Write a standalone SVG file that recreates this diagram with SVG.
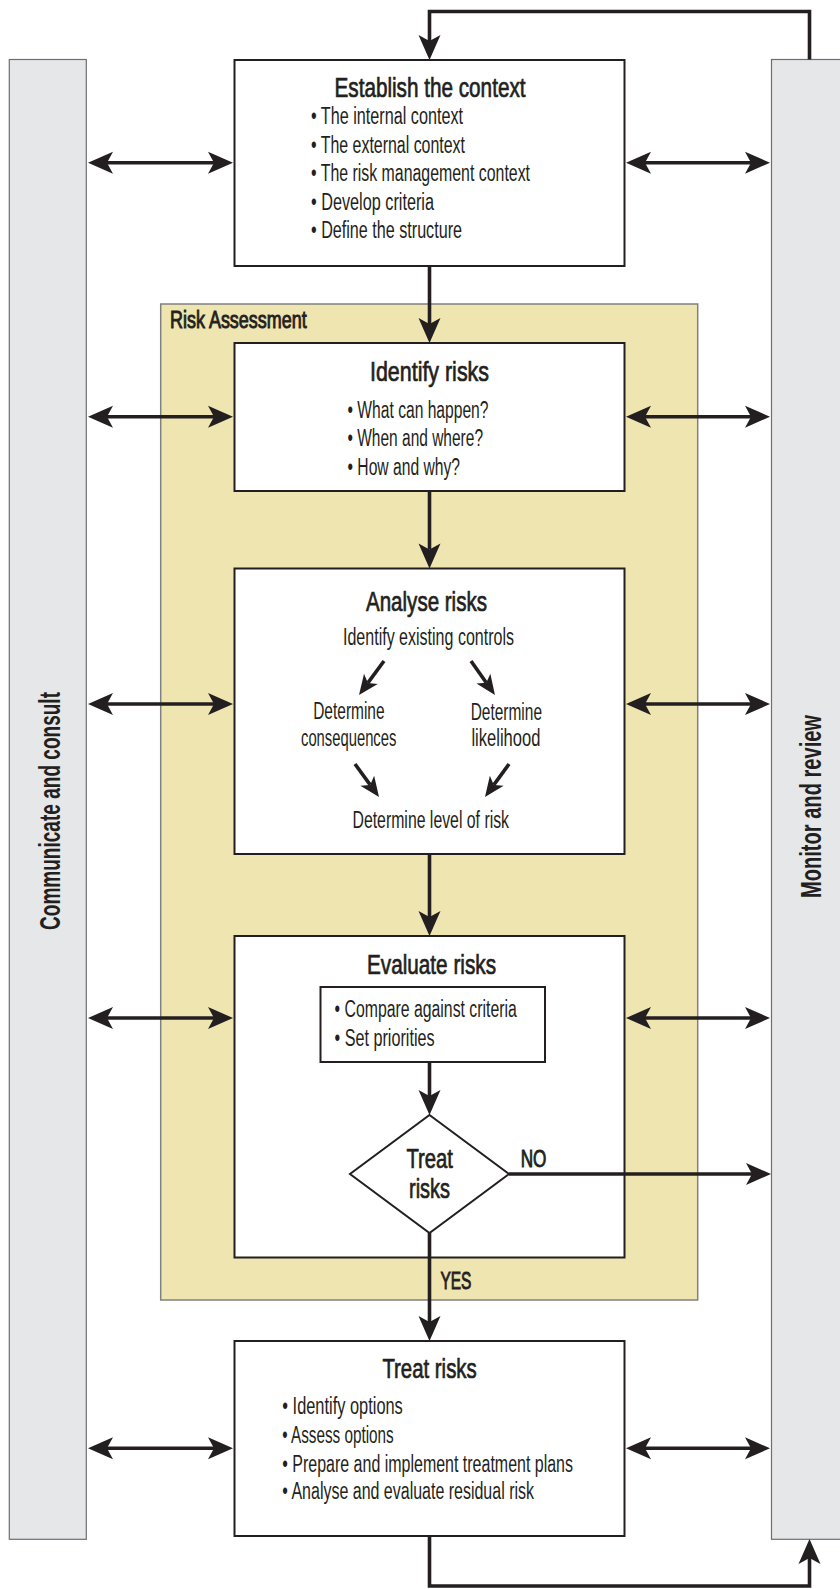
<svg xmlns="http://www.w3.org/2000/svg" width="840" height="1589" viewBox="0 0 840 1589">
<style>
.panel{fill:#e6e7e8;stroke:#6d6e71;stroke-width:1.2}
.box{fill:#ffffff;stroke:#231f20;stroke-width:2}
.ra{fill:#eee5b0;stroke:#808080;stroke-width:1.5}
.t{font-family:"Liberation Sans Narrow","Liberation Sans",Arial,sans-serif;fill:#231f20}
.title{font-size:27px;stroke:#231f20;stroke-width:0.7}
.body{font-size:23px}
.lab{font-size:23px;stroke:#231f20;stroke-width:0.9}
.side{font-size:29px;font-weight:bold}
.c{fill:none;stroke:#231f20;stroke-width:3.6}
</style>
<defs>
<marker id="ah" markerUnits="userSpaceOnUse" markerWidth="26" markerHeight="24" refX="6" refY="12" orient="auto-start-reverse" overflow="visible"><path d="M0,1 L25,12 L0,23 L6,12 Z" fill="#231f20"/></marker>
<marker id="ahs" markerUnits="userSpaceOnUse" markerWidth="21" markerHeight="20" refX="5" refY="10" orient="auto" overflow="visible"><path d="M0,1.5 L20,10 L0,18.5 L5,10 Z" fill="#231f20"/></marker>
</defs>
<rect width="840" height="1589" fill="#ffffff"/>

<g id="communicate-consult">
<rect class="panel" x="9.3" y="59.5" width="77" height="1479.8"/>
<text class="t side" transform="translate(60,811) rotate(-90)" text-anchor="middle" textLength="238" lengthAdjust="spacingAndGlyphs">Communicate and consult</text>
</g>
<g id="monitor-review">
<rect class="panel" x="771.5" y="59.5" width="80" height="1479.8"/>
<text class="t side" transform="translate(820.5,806.5) rotate(-90)" text-anchor="middle" textLength="183" lengthAdjust="spacingAndGlyphs">Monitor and review</text>
</g>

<g id="risk-assessment">
<rect class="ra" x="160.7" y="304" width="537" height="996"/>
<text class="t lab" x="170" y="328.3" textLength="136.7" lengthAdjust="spacingAndGlyphs">Risk Assessment</text>
</g>

<g id="establish-context">
<rect class="box" x="234.5" y="60" width="390" height="206"/>
<text class="t title" x="334.5" y="97" textLength="191" lengthAdjust="spacingAndGlyphs">Establish the context</text>
<text class="t body" x="311" y="124" textLength="152" lengthAdjust="spacingAndGlyphs">• The internal context</text>
<text class="t body" x="311" y="152.6" textLength="154" lengthAdjust="spacingAndGlyphs">• The external context</text>
<text class="t body" x="311" y="181.2" textLength="219" lengthAdjust="spacingAndGlyphs">• The risk management context</text>
<text class="t body" x="311" y="209.8" textLength="123" lengthAdjust="spacingAndGlyphs">• Develop criteria</text>
<text class="t body" x="311" y="238.4" textLength="151" lengthAdjust="spacingAndGlyphs">• Define the structure</text>
</g>

<g id="identify-risks">
<rect class="box" x="234.5" y="343" width="390" height="148"/>
<text class="t title" x="370" y="381" textLength="119" lengthAdjust="spacingAndGlyphs">Identify risks</text>
<text class="t body" x="347.5" y="418" textLength="141" lengthAdjust="spacingAndGlyphs">• What can happen?</text>
<text class="t body" x="347.5" y="446" textLength="135.5" lengthAdjust="spacingAndGlyphs">• When and where?</text>
<text class="t body" x="347.5" y="474.5" textLength="112.5" lengthAdjust="spacingAndGlyphs">• How and why?</text>
</g>

<g id="analyse-risks">
<rect class="box" x="234.5" y="568.5" width="390" height="285.5"/>
<text class="t title" x="366" y="611" textLength="121" lengthAdjust="spacingAndGlyphs">Analyse risks</text>
<text class="t body" x="343" y="645.4" textLength="171" lengthAdjust="spacingAndGlyphs">Identify existing controls</text>
<text class="t body" x="313.2" y="719" textLength="71.4" lengthAdjust="spacingAndGlyphs">Determine</text>
<text class="t body" x="301" y="746" textLength="95.4" lengthAdjust="spacingAndGlyphs">consequences</text>
<text class="t body" x="470.7" y="719.5" textLength="71.3" lengthAdjust="spacingAndGlyphs">Determine</text>
<text class="t body" x="471.4" y="746" textLength="69" lengthAdjust="spacingAndGlyphs">likelihood</text>
<text class="t body" x="352.5" y="827.5" textLength="156.5" lengthAdjust="spacingAndGlyphs">Determine level of risk</text>
</g>

<g id="evaluate-risks">
<rect class="box" x="234.5" y="936" width="390" height="321.5"/>
<text class="t title" x="367" y="974" textLength="129" lengthAdjust="spacingAndGlyphs">Evaluate risks</text>
<rect class="box" x="320.5" y="987" width="224.5" height="75"/>
<text class="t body" x="334.6" y="1016.7" textLength="182.2" lengthAdjust="spacingAndGlyphs">• Compare against criteria</text>
<text class="t body" x="334.6" y="1045.7" textLength="100" lengthAdjust="spacingAndGlyphs">• Set priorities</text>
</g>

<g id="treat-decision">
<polygon class="box" points="429.5,1115 509,1174 429.5,1233 350,1174"/>
<text class="t title" x="406.4" y="1168.3" textLength="46.5" lengthAdjust="spacingAndGlyphs">Treat</text>
<text class="t title" x="409" y="1198.3" textLength="41" lengthAdjust="spacingAndGlyphs">risks</text>
</g>

<g id="treat-risks">
<rect class="box" x="234.5" y="1341" width="390" height="195"/>
<text class="t title" x="382.4" y="1378.3" textLength="94.3" lengthAdjust="spacingAndGlyphs">Treat risks</text>
<text class="t body" x="282.3" y="1414" textLength="120.5" lengthAdjust="spacingAndGlyphs">• Identify options</text>
<text class="t body" x="282.3" y="1442.7" textLength="111.4" lengthAdjust="spacingAndGlyphs">• Assess options</text>
<text class="t body" x="282.3" y="1471.7" textLength="290.7" lengthAdjust="spacingAndGlyphs">• Prepare and implement treatment plans</text>
<text class="t body" x="282.3" y="1499.3" textLength="251.7" lengthAdjust="spacingAndGlyphs">• Analyse and evaluate residual risk</text>
</g>

<g id="connectors">
<path class="c" d="M809.5,59.5 V11.5 H429.5 V41" marker-end="url(#ah)"/>
<path class="c" d="M429.5,1536 V1586 H809.5 V1558" marker-end="url(#ah)"/>
<path class="c" d="M429.5,266 V324" marker-end="url(#ah)"/>
<path class="c" d="M429.5,491 V549.5" marker-end="url(#ah)"/>
<path class="c" d="M429.5,854 V917" marker-end="url(#ah)"/>
<path class="c" d="M429.5,1062 V1096" marker-end="url(#ah)"/>
<path class="c" d="M429.5,1233 V1322" marker-end="url(#ah)"/>
<path class="c" d="M509,1174 H752" marker-end="url(#ah)"/>
<path class="c" d="M107,162.7 H214" marker-start="url(#ah)" marker-end="url(#ah)"/>
<path class="c" d="M107,416.7 H214" marker-start="url(#ah)" marker-end="url(#ah)"/>
<path class="c" d="M107,704 H214" marker-start="url(#ah)" marker-end="url(#ah)"/>
<path class="c" d="M107,1018 H214" marker-start="url(#ah)" marker-end="url(#ah)"/>
<path class="c" d="M107,1448.3 H214" marker-start="url(#ah)" marker-end="url(#ah)"/>
<path class="c" d="M645,162.7 H751" marker-start="url(#ah)" marker-end="url(#ah)"/>
<path class="c" d="M645,416.7 H751" marker-start="url(#ah)" marker-end="url(#ah)"/>
<path class="c" d="M645,704 H751" marker-start="url(#ah)" marker-end="url(#ah)"/>
<path class="c" d="M645,1018 H751" marker-start="url(#ah)" marker-end="url(#ah)"/>
<path class="c" d="M645,1448.3 H751" marker-start="url(#ah)" marker-end="url(#ah)"/>
<path class="c" d="M384,661 L367.9,682.9" marker-end="url(#ahs)"/>
<path class="c" d="M471,661 L486.3,682.7" marker-end="url(#ahs)"/>
<path class="c" d="M355,764 L370.2,784.9" marker-end="url(#ahs)"/>
<path class="c" d="M509,764 L493.8,784.9" marker-end="url(#ahs)"/>
<text class="t lab" x="520.7" y="1166.7" textLength="25.7" lengthAdjust="spacingAndGlyphs">NO</text>
<text class="t lab" x="440.4" y="1289.3" textLength="31" lengthAdjust="spacingAndGlyphs">YES</text>
</g>
</svg>
